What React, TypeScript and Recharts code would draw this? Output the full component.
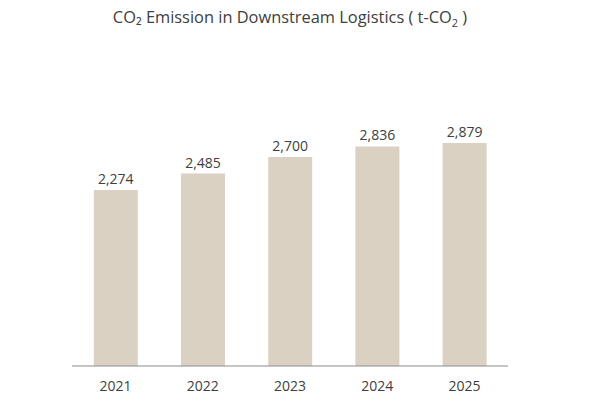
import { BarChart, Bar, XAxis, YAxis, LabelList } from "recharts";

const years = ["2021", "2022", "2023", "2024", "2025"];
const emissions = [2274, 2485, 2700, 2836, 2879];

const data = years.map((year, i) => ({ year, value: emissions[i] }));

const FONT = "'Open Sans', sans-serif";

export default function App() {
  return (
    <div style={{ position: "absolute", left: 0, top: 0, width: 596, height: 420, background: "#fff", fontFamily: FONT }}>
      <div
        style={{
          position: "absolute",
          left: 0,
          width: 580,
          top: 5,
          textAlign: "center",
          fontSize: 16.4,
          color: "#404040",
        }}
      >
        CO₂ Emission in Downstream Logistics ( t-CO<sub style={{ fontSize: 11 }}>2</sub> )
      </div>
      <BarChart width={596} height={420} data={data} margin={{ top: 95, right: 88, bottom: 24, left: 72 }} barCategoryGap="25%">
        <XAxis
          dataKey="year"
          tickLine={false}
          axisLine={{ stroke: "#8c8c8c", strokeWidth: 1 }}
          tick={{ fill: "#404040", fontSize: 14, fontFamily: FONT }}
          tickMargin={9}
          height={30}
        />
        <YAxis hide domain={[0, 3500]} />
        <Bar dataKey="value" fill="#DAD1C3" isAnimationActive={false}>
          <LabelList
            dataKey="value"
            position="top"
            offset={6}
            formatter={(v: any) => Number(v).toLocaleString("en-US")}
            style={{ fill: "#404040", fontSize: 14, fontFamily: FONT }}
          />
        </Bar>
      </BarChart>
    </div>
  );
}
